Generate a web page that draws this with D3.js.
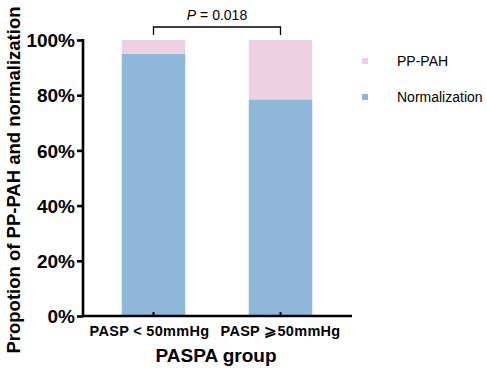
<!DOCTYPE html>
<html><head><meta charset="utf-8">
<script src="https://cdn.jsdelivr.net/npm/d3@7"></script>
<style>body{margin:0;background:#fff}svg{display:block}text{font-family:Arial,"Liberation Sans",sans-serif}</style>
</head><body>
<script>
const categories = ["PASP < 50mmHg", "PASP \u2A7E50mmHg"];
const normalization = [95, 78.5];
const ppPAH = [5, 21.5];
const seriesNames = ["PP-PAH", "Normalization"];
const seriesColors = ["#ecd0e2", "#8fb7da"];
const yTicks = [0, 20, 40, 60, 80, 100];
const pText = "0.018";

const W = 487, H = 370;
const svg = d3.select("body").append("svg").attr("width", W).attr("height", H);
const x = d3.scaleBand().domain(categories).range([90, 344]).paddingInner(0.5).paddingOuter(0.25);
const y = d3.scaleLinear().domain([0, 100]).range([316, 40]);

const data = categories.map((c, i) => ({cat: c, "Normalization": normalization[i], "PP-PAH": ppPAH[i]}));
const stack = d3.stack().keys(["Normalization", "PP-PAH"])(data);
const color = d3.scaleOrdinal().domain(seriesNames).range(seriesColors);

svg.append("g").selectAll("g").data(stack).join("g")
  .attr("fill", d => color(d.key))
  .selectAll("rect").data(d => d).join("rect")
  .attr("x", d => x(d.data.cat))
  .attr("width", x.bandwidth())
  .attr("y", d => y(d[1]))
  .attr("height", d => y(d[0]) - y(d[1]));

// y axis
const yAx = svg.append("g").attr("transform", "translate(83,0)")
  .call(d3.axisLeft(y).tickValues(yTicks).tickFormat(d => d + "%").tickSize(6).tickSizeOuter(0));
yAx.select(".domain").attr("stroke", "#000").attr("stroke-width", 2.6).attr("d", `M0,${y(100)-1}V${y(0)+1}`);
yAx.selectAll(".tick line").attr("stroke-width", 2.6);
yAx.selectAll(".tick text").attr("font-size", 19).attr("font-weight", "bold").attr("fill", "#000").attr("x", -8).attr("dy", "0.35em");

// x axis
const xAx = svg.append("g").attr("transform", `translate(0,${y(0)})`)
  .call(d3.axisBottom(x).tickSize(-4).tickSizeOuter(0));
xAx.select(".domain").attr("stroke-width", 2.6).attr("d", `M82,0H352`);
xAx.selectAll(".tick line").attr("stroke-width", 2);
xAx.selectAll(".tick text").attr("font-size", 14.5).attr("font-weight", "bold").attr("fill", "#000")
  .attr("y", 10).attr("dy", "0.71em").attr("letter-spacing", 0.3);
xAx.selectAll(".tick").filter((d, i) => i === 0).select("text").attr("dx", -4);

// axis titles
svg.append("text").attr("transform", `translate(20,${(y(0)+y(100))/2+2}) rotate(-90)`)
  .attr("text-anchor", "middle").attr("font-size", 18.5).attr("font-weight", "bold").text("Propotion of PP-PAH and normalization");
svg.append("text").attr("x", 216).attr("y", 362).attr("text-anchor", "middle")
  .attr("font-size", 19).attr("font-weight", "bold").text("PASPA group");

// significance bracket
const x1 = x(categories[0]) + x.bandwidth()/2, x2 = x(categories[1]) + x.bandwidth()/2;
svg.append("path").attr("d", `M${x1},35V27H${x2}V35`).attr("fill", "none").attr("stroke", "#000").attr("stroke-width", 1.3);
const pt = svg.append("text").attr("x", (x1+x2)/2).attr("y", 20).attr("text-anchor", "middle").attr("font-size", 14);
pt.append("tspan").attr("font-style", "italic").text("P");
pt.append("tspan").text(" = " + pText);

// legend
const lg = svg.append("g").selectAll("g").data(seriesNames).join("g")
  .attr("transform", (d, i) => `translate(365,${61 + i*36})`);
lg.append("rect").attr("x", -3).attr("y", -3).attr("width", 6).attr("height", 6).attr("fill", d => color(d));
lg.append("text").attr("x", 32).attr("dy", "0.35em").attr("font-size", 14).text(d => d);
</script>
</body></html>
